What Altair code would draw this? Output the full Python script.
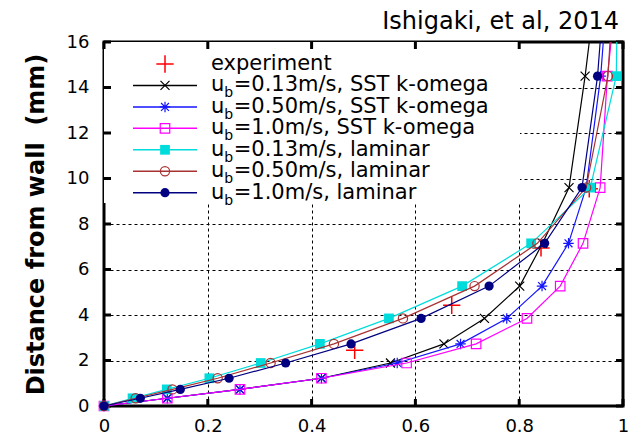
import altair as alt
import pandas as pd

# ---------------- values ----------------
Y_LEVELS = [0, 0.34, 0.73, 1.22, 1.89, 2.73, 3.85, 5.27, 7.15, 9.6, 14.5]
Y_TOP = 16

X_SST_013 = [0, 0.122, 0.262, 0.419, 0.552, 0.655, 0.733, 0.801, 0.845, 0.896, 0.927]
X_SST_050 = [0, 0.122, 0.262, 0.419, 0.565, 0.687, 0.776, 0.844, 0.895, 0.929, 0.957]
X_SST_100 = [0, 0.122, 0.262, 0.419, 0.583, 0.717, 0.815, 0.879, 0.923, 0.956, 0.970]
X_LAM_013 = [0, 0.055, 0.121, 0.203, 0.302, 0.416, 0.549, 0.690, 0.823, 0.937, 0.987]
X_LAM_050 = [0, 0.061, 0.132, 0.219, 0.321, 0.443, 0.576, 0.714, 0.835, 0.929, 0.971]
X_LAM_100 = [0, 0.070, 0.147, 0.241, 0.350, 0.476, 0.611, 0.742, 0.849, 0.921, 0.951]
# x where each curve leaves the top of the frame (y = 16)
X_TOP = [0.935, 0.962, 0.977, 0.988, 0.975, 0.956]

EXP_X = [0.483, 0.670, 0.842, 0.935]
EXP_Y = [2.45, 4.43, 6.95, 9.55]

SERIES_X = [X_SST_013, X_SST_050, X_SST_100, X_LAM_013, X_LAM_050, X_LAM_100]

X_TICKS = [0, 0.2, 0.4, 0.6, 0.8, 1]
Y_TICKS = [0, 2, 4, 6, 8, 10, 12, 14, 16]

LEGEND_ROWS = [
    ("experiment", "", ""),
    ("u", "b", "=0.13m/s, SST k-omega"),
    ("u", "b", "=0.50m/s, SST k-omega"),
    ("u", "b", "=1.0m/s, SST k-omega"),
    ("u", "b", "=0.13m/s, laminar"),
    ("u", "b", "=0.50m/s, laminar"),
    ("u", "b", "=1.0m/s, laminar"),
]
TITLE = "Ishigaki, et al, 2014"
Y_TITLE = "Distance from wall\u00a0 (mm)"

# ---------------- styles ----------------
FONT = "DejaVu Sans"
PLUS = "M-1,0L1,0M0,-1L0,1"
XMARK = "M-1,-1L1,1M-1,1L1,-1"
STAR = "M-1,0L1,0M0,-1L0,1M-0.75,-0.75L0.75,0.75M-0.75,0.75L0.75,-0.75"
EXP_STYLE = dict(color="#ff0000", shape=PLUS, filled=False, size=300, sw=1.5)
STYLES = [
    dict(color="#000000", shape=XMARK, filled=False, size=81, sw=1.2),
    dict(color="#1414ff", shape=STAR, filled=False, size=110, sw=1.2),
    dict(color="#ff00ff", shape="square", filled=False, size=90, sw=1.2),
    dict(color="#00dcdc", shape="square", filled=True, size=95, sw=1.2),
    dict(color="#a83232", shape="circle", filled=False, size=85, sw=1.2),
    dict(color="#000080", shape="circle", filled=True, size=85, sw=1.2),
]

W, H = 519, 364
xscale = alt.Scale(domain=[0, 1], nice=False, zero=False)
yscale = alt.Scale(domain=[0, 16], nice=False, zero=False)
x_axis = alt.Axis(values=X_TICKS, format="~g", title=None, ticks=False, domain=False,
                  grid=True, gridColor="black", gridDash=[3, 3], gridWidth=1, gridOpacity=1,
                  labelFont=FONT, labelFontSize=18, labelColor="black", labelPadding=11,
                  labelFlush=False, labelOverlap=False)
y_axis = alt.Axis(values=Y_TICKS, format="d", title=Y_TITLE, titleX=-68, titleY=H / 2,
                  titleAngle=270, titleAlign="center", titleBaseline="middle",
                  titleFont=FONT, titleFontSize=24, titleFontWeight="bold", titleColor="black",
                  ticks=False, domain=False,
                  grid=True, gridColor="black", gridDash=[3, 3], gridWidth=1, gridOpacity=1,
                  labelFont=FONT, labelFontSize=18, labelColor="black", labelPadding=15,
                  labelOverlap=False)


def X(field):
    return alt.X(f"{field}:Q", scale=xscale, axis=x_axis)


def Y(field):
    return alt.Y(f"{field}:Q", scale=yscale, axis=y_axis)


ONE = pd.DataFrame({"k": [0]})
layers = []

# white legend box (hides grid behind the legend)
layers.append(alt.Chart(ONE).mark_rect(color="white").encode(
    x=alt.value(0), x2=alt.value(416), y=alt.value(0), y2=alt.value(161)))

# inward ticks on all four sides
tx = pd.DataFrame({"tx": X_TICKS})
ty = pd.DataFrame({"ty": Y_TICKS})
layers.append(alt.Chart(tx).mark_rule(color="black", strokeWidth=3).encode(
    x=X("tx"), y=alt.value(H), y2=alt.value(H - 7)))
layers.append(alt.Chart(tx).mark_rule(color="black", strokeWidth=3).encode(
    x=X("tx"), y=alt.value(0), y2=alt.value(7)))
layers.append(alt.Chart(ty).mark_rule(color="black", strokeWidth=3).encode(
    y=Y("ty"), x=alt.value(0), x2=alt.value(7)))
layers.append(alt.Chart(ty).mark_rule(color="black", strokeWidth=3).encode(
    y=Y("ty"), x=alt.value(W), x2=alt.value(W - 7)))

# experiment
exp_df = pd.DataFrame({"x": EXP_X, "y": EXP_Y})
layers.append(alt.Chart(exp_df).mark_point(
    shape=EXP_STYLE["shape"], filled=False, size=EXP_STYLE["size"],
    color=EXP_STYLE["color"], strokeWidth=EXP_STYLE["sw"], opacity=1
).encode(x=X("x"), y=Y("y")))

# simulation series
for xs, xtop, st in zip(SERIES_X, X_TOP, STYLES):
    pts = pd.DataFrame({"x": xs, "y": Y_LEVELS, "i": range(len(xs))})
    line_df = pd.DataFrame({"x": xs + [xtop], "y": Y_LEVELS + [Y_TOP],
                            "i": list(range(len(xs) + 1))})
    layers.append(alt.Chart(line_df).mark_line(color=st["color"], strokeWidth=1.2).encode(
        x=X("x"), y=Y("y"), order="i:Q"))
    mk = dict(shape=st["shape"], size=st["size"], color=st["color"],
              strokeWidth=st["sw"], opacity=1, filled=st["filled"])
    layers.append(alt.Chart(pts).mark_point(**mk).encode(x=X("x"), y=Y("y")))

# legend
ROW0, DROW = 22, 21.45
SYM_X, L_X0, L_X1, TXT_X = 61, 29, 93, 107
FS, FS_SUB = 21, 14
for i, (main, sub, rest) in enumerate(LEGEND_ROWS):
    ry = ROW0 + DROW * i
    if i == 0:
        st = EXP_STYLE
    else:
        st = STYLES[i - 1]
        layers.append(alt.Chart(ONE).mark_rule(color=st["color"], strokeWidth=1.5).encode(
            x=alt.value(L_X0), x2=alt.value(L_X1), y=alt.value(ry)))
    layers.append(alt.Chart(ONE).mark_point(
        shape=st["shape"], size=st["size"], color=st["color"], strokeWidth=st["sw"],
        opacity=1, filled=st["filled"]).encode(x=alt.value(SYM_X), y=alt.value(ry)))
    txt = dict(align="left", baseline="alphabetic", font=FONT, color="black")
    layers.append(alt.Chart(ONE).mark_text(fontSize=FS, **txt).encode(
        x=alt.value(TXT_X), y=alt.value(ry + 6), text=alt.value(main)))
    if sub:
        xb = TXT_X + 0.634 * FS
        layers.append(alt.Chart(ONE).mark_text(fontSize=FS_SUB, **txt).encode(
            x=alt.value(xb), y=alt.value(ry + 12), text=alt.value(sub)))
        xr = xb + 0.635 * FS_SUB + 0.5
        layers.append(alt.Chart(ONE).mark_text(fontSize=FS, **txt).encode(
            x=alt.value(xr), y=alt.value(ry + 6), text=alt.value(rest)))

# title text at the top right, above the frame
layers.append(alt.Chart(ONE).mark_text(
    align="right", baseline="alphabetic", font=FONT, fontSize=24, color="black"
).encode(x=alt.value(W - 4), y=alt.value(-13), text=alt.value(TITLE)))

chart = alt.layer(*layers).properties(
    width=W, height=H,
    padding={"left": 96, "top": 34, "right": 11, "bottom": 30},
    autosize=alt.AutoSizeParams(type="none"),
    background="white",
).configure_view(stroke="black", strokeWidth=3)

chart.save("out.html", embed_options={"renderer": "svg", "actions": False})
